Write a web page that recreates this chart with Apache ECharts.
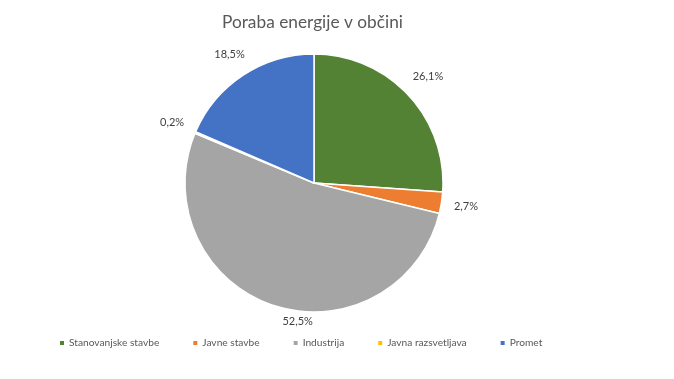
<!DOCTYPE html>
<html><head><meta charset="utf-8">
<script src="https://cdn.jsdelivr.net/npm/echarts@6/dist/echarts.min.js"></script>
<style>html,body{margin:0;padding:0;background:#fff}#c{width:674px;height:379px}</style>
</head><body><div id="c"></div>
<script>
const title = 'Poraba energije v občini';
const categories = ['Stanovanjske stavbe', 'Javne stavbe', 'Industrija', 'Javna razsvetljava', 'Promet'];
const values = [26.1, 2.7, 52.5, 0.2, 18.5];
const colors = ['#548235', '#ED7D31', '#A5A5A5', '#FFC000', '#4472C4'];

const CX = 314, CY = 183, R = 129, PAD = 12;
const total = values.reduce((a, b) => a + b, 0);
const cum = [];
values.reduce((acc, v, i) => { cum[i] = acc + v / 2; return acc + v; }, 0);

const chart = echarts.init(document.getElementById('c'));
chart.setOption({
  animation: false,
  title: {
    text: title, left: 217, top: 9,
    textStyle: { fontFamily: 'Lato', fontSize: 17.3, fontWeight: 'normal', color: '#595959' }
  },
  color: colors,
  legend: {
    bottom: 26, left: 53,
    itemWidth: 6, itemHeight: 6, itemGap: 32, icon: 'rect',
    textStyle: { fontFamily: 'Lato', fontSize: 10.2, color: '#595959', padding: [0, 0, 0, -1] },
    data: categories
  },
  series: [{
    type: 'pie',
    center: [CX, CY], radius: R,
    startAngle: 90, clockwise: true,
    itemStyle: { borderColor: '#fff', borderWidth: 1.5 },
    label: {
      show: true, position: 'outside',
      formatter: p => p.value.toFixed(1).replace('.', ',') + '%',
      fontFamily: 'Lato', fontSize: 11, color: '#404040'
    },
    labelLine: { show: false, length: 5, length2: 0 },
    labelLayout: function (p) {
      const i = p.dataIndex;
      let th = cum[i] / total * 2 * Math.PI;
      if (i === 2) th -= 0.2;
      const s = Math.sin(th), c = Math.cos(th);
      const w = p.labelRect.width, h = p.labelRect.height;
      const d = R + PAD + (w / 2) * Math.abs(s) + (h / 2) * Math.abs(c) - (i === 2 ? 9 : 0);
      return { x: CX + d * s, y: CY - d * c, align: 'center', verticalAlign: 'middle' };
    },
    data: categories.map((n, i) => ({ name: n, value: values[i] }))
  }]
});
</script></body></html>
